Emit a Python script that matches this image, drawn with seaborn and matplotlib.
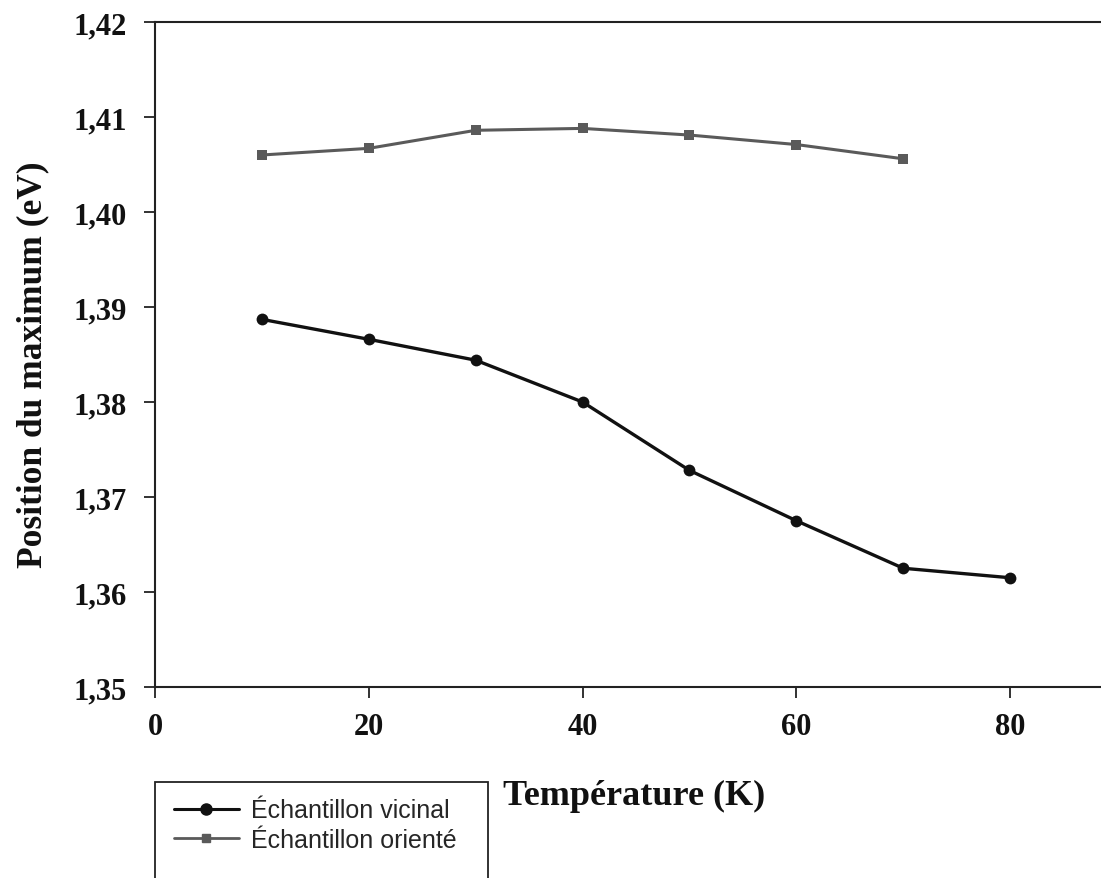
import matplotlib
matplotlib.use("Agg")
import matplotlib.pyplot as plt
import matplotlib.patches as mpatches
from matplotlib.lines import Line2D
from matplotlib.ticker import FuncFormatter
import seaborn as sns
import pandas as pd

temp_vicinal = [10, 20, 30, 40, 50, 60, 70, 80]
pos_vicinal = [1.3887, 1.3866, 1.3844, 1.3800, 1.3728, 1.3675, 1.3625, 1.3615]
temp_oriente = [10, 20, 30, 40, 50, 60, 70]
pos_oriente = [1.4060, 1.4067, 1.4086, 1.4088, 1.4081, 1.4071, 1.4056]
labels = ["Échantillon vicinal", "Échantillon orienté"]
x_ticks = [0, 20, 40, 60, 80]
y_ticks = [1.35, 1.36, 1.37, 1.38, 1.39, 1.40, 1.41, 1.42]

df = pd.concat([
    pd.DataFrame({"T": temp_vicinal, "E": pos_vicinal, "s": labels[0]}),
    pd.DataFrame({"T": temp_oriente, "E": pos_oriente, "s": labels[1]}),
])

sns.set_style("white")
plt.rcParams["font.family"] = ["Liberation Serif", "DejaVu Serif"]

fig = plt.figure(figsize=(11.01, 8.79), dpi=100)
ax = fig.add_axes([155/1101, 1-688/879, 1-155/1101, (688-23)/879])

colors = {labels[0]: "#111111", labels[1]: "#5a5a5a"}
sns.lineplot(data=df, x="T", y="E", hue="s", style="s", palette=colors,
             markers={labels[0]: "o", labels[1]: "s"}, dashes=False,
             ax=ax, legend=False, markeredgewidth=0)
for line, lw, ms in zip(ax.lines, [2.4, 2.2], [8.5, 7]):
    line.set_linewidth(lw)
    line.set_markersize(ms)

ax.set_xlim(0, 88.5)
ax.set_ylim(1.35, 1.42)
ax.set_xticks(x_ticks)
ax.set_yticks(y_ticks)
ax.yaxis.set_major_formatter(FuncFormatter(lambda v, p: f"{v:.2f}".replace(".", ",")))
ax.xaxis.set_major_formatter(FuncFormatter(lambda v, p: f"{v:.0f}"))

for side in ["left", "bottom", "top"]:
    ax.spines[side].set_visible(True)
    ax.spines[side].set_color("#222222")
    ax.spines[side].set_linewidth(1.5)
ax.spines["right"].set_visible(False)

ax.tick_params(axis="both", direction="out", length=8, width=1.3, color="#222222",
               labelsize=22, labelcolor="#111111")
ax.tick_params(axis="x", pad=10, bottom=True)
ax.tick_params(axis="y", pad=12, left=True)
for lab in ax.get_xticklabels() + ax.get_yticklabels():
    lab.set_fontweight("bold")

ax.set_xlabel("Température (K)", fontsize=26, fontweight="bold", color="#111111")
ax.set_ylabel("Position du maximum (eV)", fontsize=25.5, fontweight="bold", color="#111111")
ax.xaxis.set_label_coords((634-155)/946, (688-780)/665)
ax.yaxis.set_label_coords(-0.112, 0.486)

# legend
handles = [
    Line2D([], [], color=colors[labels[0]], marker="o", markersize=8, lw=2.2),
    Line2D([], [], color=colors[labels[1]], marker="s", markersize=6, lw=2.0),
]
leg = fig.legend(handles, labels, loc="upper left",
                 bbox_to_anchor=(151/1101, 1-777/879), frameon=False,
                 prop={"family": "Liberation Sans", "size": 18},
                 handlelength=2.6, handletextpad=0.5, labelspacing=0.22)
rect = mpatches.Rectangle((155/1101, -0.02), (488-155)/1101, (0.02 + 1-783/879),
                          transform=fig.transFigure, fill=False, edgecolor="#222222",
                          linewidth=1.3, clip_on=False)
fig.patches.append(rect)

fig.savefig("out.png", dpi=100)
